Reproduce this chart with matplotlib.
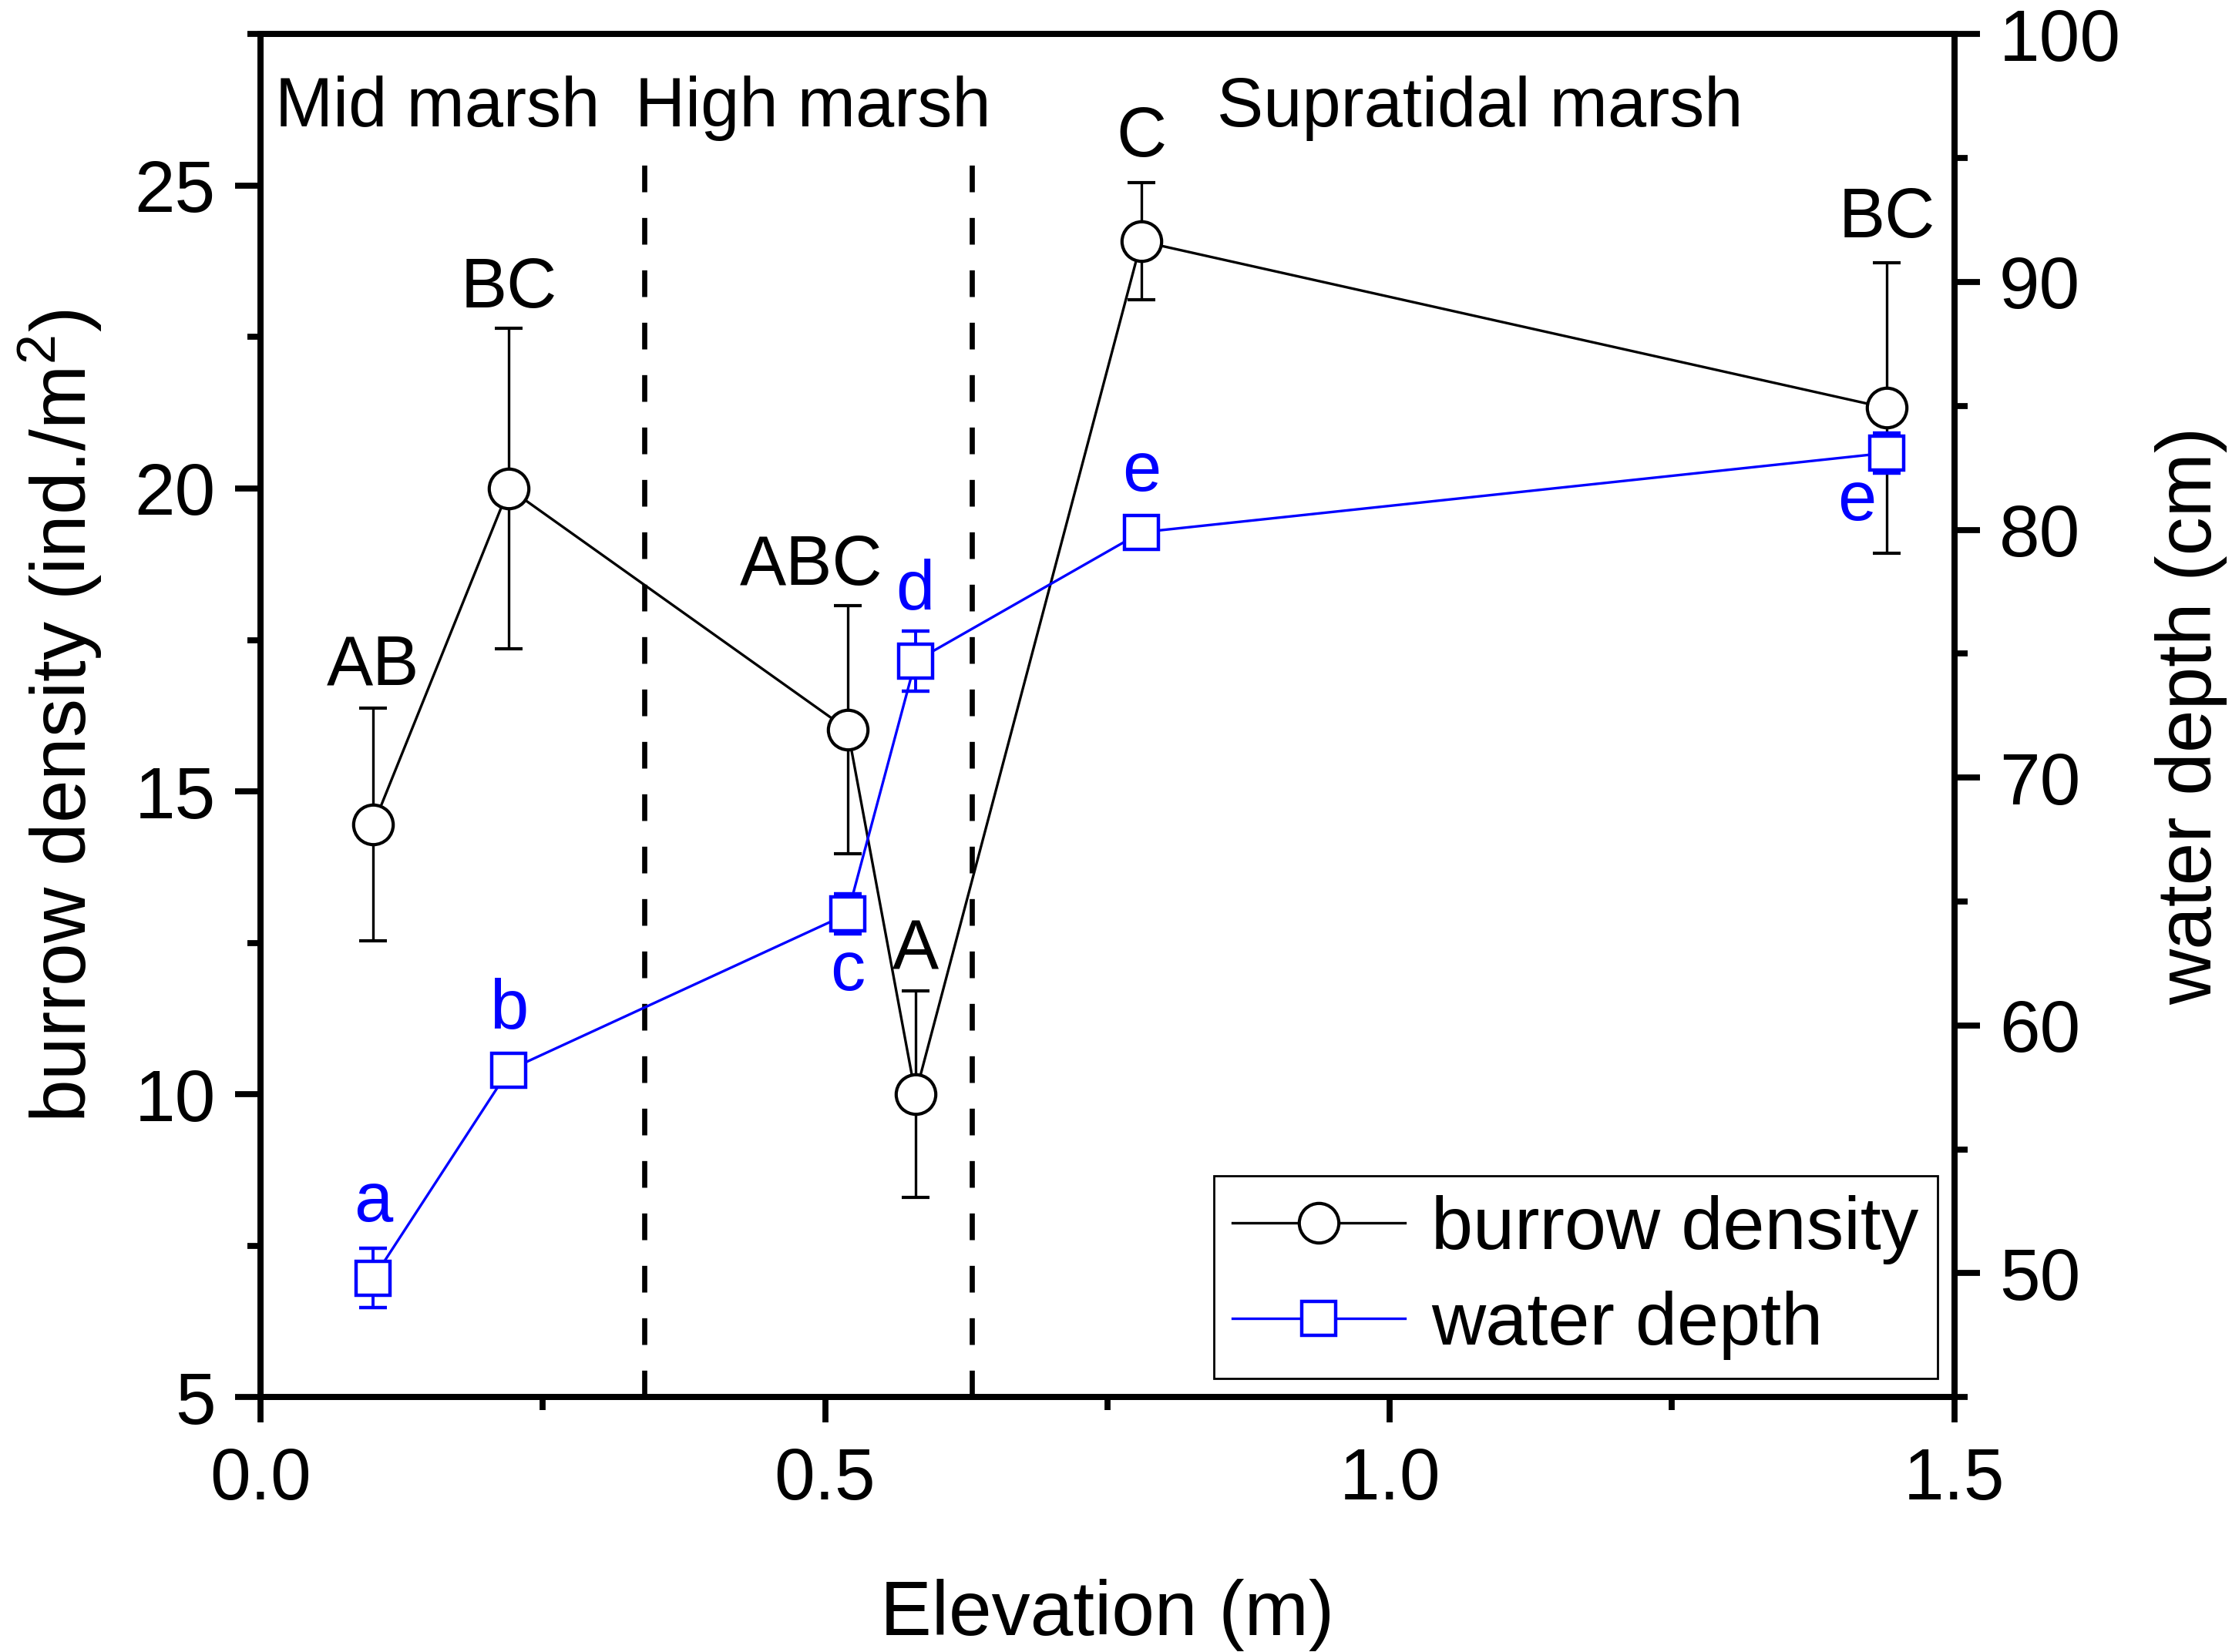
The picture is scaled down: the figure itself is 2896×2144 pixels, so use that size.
import matplotlib
matplotlib.use("Agg")
import matplotlib.pyplot as plt
from matplotlib.ticker import MultipleLocator
from matplotlib.lines import Line2D

plt.rcParams['font.family'] = ['Liberation Sans', 'DejaVu Sans']
plt.rcParams['mathtext.fontset'] = 'custom'
plt.rcParams['mathtext.rm'] = 'Liberation Sans'

# ---- data ----
elevation = [0.10, 0.22, 0.52, 0.58, 0.78, 1.44]
burrow_density = [14.45, 20.0, 16.02, 10.0, 24.08, 21.33]
burrow_err = [1.92, 2.65, 2.05, 1.70, 0.97, 2.40]
water_depth = [49.8, 58.2, 64.5, 74.7, 79.9, 83.1]
water_err = [1.2, 0.3, 0.8, 1.2, 0.4, 0.8]
burrow_letters = ['AB', 'BC', 'ABC', 'A', 'C', 'BC']
water_letters = ['a', 'b', 'c', 'd', 'e', 'e']
zone_names = ['Mid marsh', 'High marsh', 'Supratidal marsh']
zone_centers = [0.157, 0.489, 1.080]
zone_bounds = [0.34, 0.63]

# label offsets in points (dx, dy)
burrow_offsets = [(0, 74), (0, 93), (-17, 76), (0, 67), (0, 48), (0, 88)]
water_offsets = [(0, 35), (0, 28), (0, -27), (0, 33), (0, 28), (-14, -23)]

fig = plt.figure(figsize=(14.48, 10.72), dpi=200)
ax = fig.add_axes([0.1167, 0.1543, 0.7589, 0.825])
ax2 = ax.twinx()

BLUE = '#0000ff'
FS_TICK = 34
FS_LAB = 36
FS_TXT = 32.5

circle_style = dict(marker='o', ms=18.5, mfc='white', mec='black', mew=1.5)
square_style = dict(marker='s', ms=15.5, mfc='white', mec=BLUE, mew=1.6)

# burrow density
ax.errorbar(elevation, burrow_density, yerr=burrow_err, color='black', lw=1.2,
            elinewidth=1.2, capsize=6.5, capthick=1.2, zorder=3, **circle_style)
# water depth
ax2.errorbar(elevation, water_depth, yerr=water_err, color=BLUE, lw=1.2,
             elinewidth=1.4, capsize=6.5, capthick=1.6, zorder=3, **square_style)

ax.set_xlim(0, 1.5)
ax.set_ylim(5, 27.5)
ax2.set_ylim(45, 100)

# dividing dashed lines
for xb in zone_bounds:
    ax.plot([xb, xb], [5, 25.55], color='black', lw=2.4,
            linestyle=(0, (5.2, 5.0)), zorder=1)

for name, xc in zip(zone_names, zone_centers):
    ax.text(xc, 26.28, name, ha='center', va='center', fontsize=FS_TXT)

for x, y, t, (dx, dy) in zip(elevation, burrow_density, burrow_letters, burrow_offsets):
    ax.annotate(t, (x, y), xytext=(dx, dy), textcoords='offset points',
                ha='center', va='center', fontsize=FS_TXT, color='black')
for x, y, t, (dx, dy) in zip(elevation, water_depth, water_letters, water_offsets):
    ax2.annotate(t, (x, y), xytext=(dx, dy), textcoords='offset points',
                 ha='center', va='center', fontsize=FS_TXT, color=BLUE)

# ticks
ax.xaxis.set_major_locator(MultipleLocator(0.5))
ax.xaxis.set_minor_locator(MultipleLocator(0.25))
ax.yaxis.set_major_locator(MultipleLocator(5))
ax.yaxis.set_minor_locator(MultipleLocator(2.5))
ax2.yaxis.set_major_locator(MultipleLocator(10))
ax2.yaxis.set_minor_locator(MultipleLocator(5))
ax.xaxis.set_major_formatter(plt.FuncFormatter(lambda v, p: f'{v:.1f}'))
ax2.set_yticks([50, 60, 70, 80, 90, 100])

for a in (ax, ax2):
    for s in a.spines.values():
        s.set_linewidth(2.8)
ax.tick_params(axis='both', which='major', direction='out', length=12, width=2.8,
               labelsize=FS_TICK, pad=9)
ax.tick_params(axis='both', which='minor', direction='out', length=6, width=2.8)
ax.tick_params(axis='x', which='major', pad=11)
ax.tick_params(top=False, which='both')
ax2.tick_params(axis='y', which='major', direction='out', length=12, width=2.8,
                labelsize=FS_TICK, pad=9)
ax2.tick_params(axis='y', which='minor', direction='out', length=6, width=2.8)

ax.set_xlabel('Elevation (m)', fontsize=FS_LAB, labelpad=30)
ax.set_ylabel('burrow density (ind./m$^2$)', fontsize=FS_LAB, labelpad=14)
ax2.set_ylabel('water depth (cm)', fontsize=FS_LAB, labelpad=16)

handles = [Line2D([], [], color='black', lw=1.2, **circle_style),
           Line2D([], [], color=BLUE, lw=1.2, **square_style)]
leg = ax2.legend(handles, ['burrow density', 'water depth'], loc='lower right',
                 bbox_to_anchor=(0.990, 0.0136), bbox_transform=ax.transAxes,
                 borderaxespad=0, fontsize=35, fancybox=False, edgecolor='black',
                 framealpha=1, handlelength=2.3, handletextpad=0.35,
                 borderpad=0.25, labelspacing=0.35)
leg.get_frame().set_linewidth(1.0)
leg.set_zorder(10)

fig.savefig('out.png', dpi=200)
